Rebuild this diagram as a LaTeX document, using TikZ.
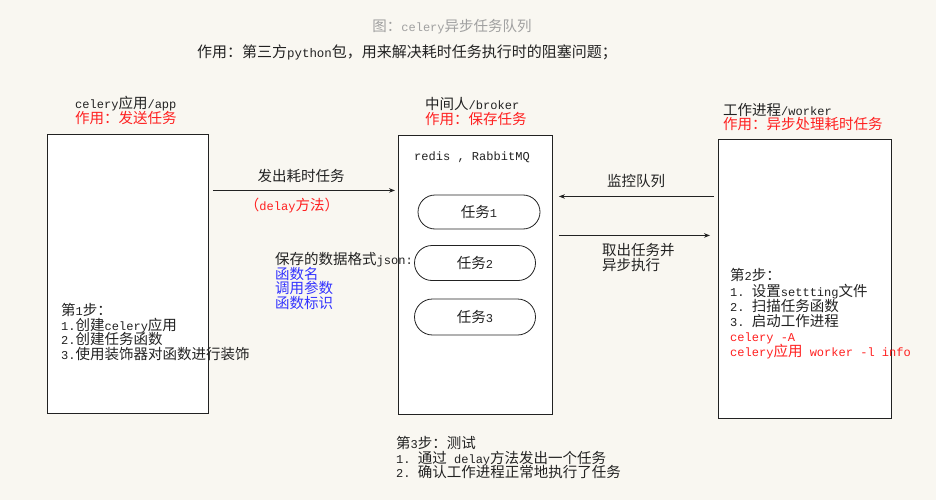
\documentclass[tikz,border=0pt]{standalone}
\usepackage{fontspec}
\setmainfont{Noto Sans CJK SC}
\newfontfamily\latinmono{Liberation Mono}[Scale=0.83]
\newcommand\en[1]{{\latinmono #1}}
\usetikzlibrary{arrows.meta,shapes.misc}
\definecolor{paper}{HTML}{F9F7F1}
\definecolor{ink}{HTML}{222222}
\definecolor{note}{HTML}{FF2020}
\definecolor{field}{HTML}{3333FF}
\definecolor{caption}{HTML}{A0A0A0}
\tikzset{
  box/.style={draw=ink, line width=0.9pt, fill=white, anchor=north west, inner sep=0pt},
  pill/.style={rounded rectangle, draw=ink, line width=0.8pt, fill=white, inner sep=0pt,
    font=\fontsize{14.5}{14.8}\selectfont, text=ink},
  txt/.style={anchor=west, inner sep=0pt, text=ink, align=left,
    font=\fontsize{14.5}{14.8}\selectfont},
  flow/.style={draw=ink, line width=0.8pt, -{Stealth[length=6pt,width=4.5pt]}},
}

\begin{document}
\begin{tikzpicture}[x=1pt,y=-1pt]
	  \fill [paper] (0,0) rectangle (936,500);
	  \useasboundingbox (0,0) rectangle (936,500);
	  % titles
	  \node [txt, anchor=center, text=caption] (title) at (452,27) {图：\en{celery}异步任务队列};
	  \node [txt, anchor=center, font=\fontsize{15}{16}\selectfont] (purpose) at (407,52) {作用：第三方\en{python}包，用来解决耗时任务执行时的阻塞问题；};
	  % three boxes
	  \node [box, minimum width=161pt, minimum height=279pt] (app) at (47,134) {};
	  \node [box, minimum width=154pt, minimum height=279pt] (broker) at (398,135) {};
	  \node [box, minimum width=173pt, minimum height=279pt] (worker) at (718,139) {};
	  \node [txt] (appname) at (75,104) {\en{celery}应用\en{/app}};
	  \node [txt, text=note] (appduty) at (75,118) {作用：发送任务};
	  \node [txt] (brokername) at (425,104) {中间人\en{/broker}};
	  \node [txt, text=note] (brokerduty) at (425,119) {作用：保存任务};
	  \node [txt] (workername) at (723,110) {工作进程\en{/worker}};
	  \node [txt, text=note] (workerduty) at (723,124) {作用：异步处理耗时任务};
	  % queue
	  \node [txt, anchor=center] (store) at (472,157) {\en{redis , RabbitMQ}};
	  \node [pill, minimum width=122pt, minimum height=34pt] (task1) at (479,212) {任务\en{1}};
	  \node [pill, minimum width=121pt, minimum height=35pt] (task2) at (475,263) {任务\en{2}};
	  \node [pill, minimum width=121pt, minimum height=36pt] (task3) at (475,317) {任务\en{3}};
	  % arrows
	  \draw [flow] ([shift={(4,-83.5)}]app.east) -- ([shift={(-3,-84.5)}]broker.west);
	  \draw [flow] ([shift={(-4,-82.5)}]worker.west) -- ([shift={(6,-78.5)}]broker.east);
	  \draw [flow] ([shift={(6,-39.5)}]broker.east) -- ([shift={(-8,-43.5)}]worker.west);
	  \node [txt, anchor=center] (sendlabel) at (301,176) {发出耗时任务};
	  \node [txt, anchor=center, text=note] (delaylabel) at (292,206) {（\en{delay}方法）};
	  \node [txt, anchor=center] (watchlabel) at (636,181) {监控队列};
	  \node [txt] (fetchlabel) at (602,257.5) {取出任务并\\异步执行};
	  % notes
	  \node [txt] (format) at (275,281) {保存的数据格式\en{json:}\\\textcolor{field}{函数名}\\\textcolor{field}{调用参数}\\\textcolor{field}{函数标识}};
	  \node [txt] (step1) at (61,332) {第\en{1}步：\\\en{1.}创建\en{celery}应用\\\en{2.}创建任务函数\\\en{3.}使用装饰器对函数进行装饰};
	  \node [txt, font=\fontsize{14.5}{15.2}\selectfont] (step2) at (730,314) {第\en{2}步：\\\en{1.~}设置\en{settting}文件\\\en{2.~}扫描任务函数\\\en{3.~}启动工作进程\\\textcolor{note}{\en{celery -A}}\\\textcolor{note}{\en{celery}应用\en{ worker -l info}}};
	  \node [txt] (step3) at (396,457.5) {第\en{3}步：测试\\\en{1.~}通过\en{ delay}方法发出一个任务\\\en{2.~}确认工作进程正常地执行了任务};
	 \end{tikzpicture}
\end{document}
